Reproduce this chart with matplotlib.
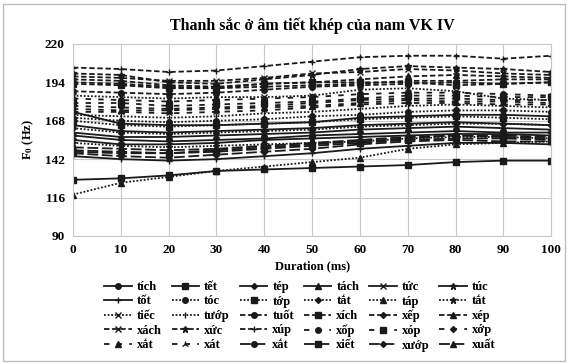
import numpy as np
import matplotlib
matplotlib.use("Agg")
import matplotlib.pyplot as plt
from matplotlib.patches import Rectangle

plt.rcParams['font.family'] = ['Liberation Serif', 'DejaVu Serif']
plt.rcParams['font.weight'] = 'bold'
plt.rcParams['mathtext.fontset'] = 'stix'

duration = [0, 10, 20, 30, 40, 50, 60, 70, 80, 90, 100]

# legend rows (6 per row)
labels_row1 = ['tích', 'tết', 'tép', 'tách', 'tức', 'túc']
labels_row2 = ['tốt', 'tóc', 'tớp', 'tắt', 'táp', 'tắt']
labels_row3 = ['tiếc', 'tướp', 'tuốt', 'xích', 'xếp', 'xép']
labels_row4 = ['xách', 'xức', 'xúp', 'xốp', 'xóp', 'xớp']
labels_row5 = ['xắt', 'xát', 'xắt', 'xiết', 'xướp', 'xuất']

# F0 (Hz) per syllable, same order as the labels
f0_row1 = [
    [174, 166, 165, 165, 166, 167, 170, 171, 172, 172, 171],
    [128, 129, 131, 134, 135, 136, 137, 138, 140, 141, 141],
    [165, 161, 160, 161, 162, 163, 165, 166, 167, 166, 165],
    [160, 157, 157, 158, 159, 160, 162, 163, 164, 163, 162],
    [158, 155, 154, 155, 156, 158, 159, 160, 161, 160, 160],
    [155, 152, 152, 153, 155, 156, 157, 158, 159, 159, 158],
]
f0_row2 = [
    [144, 142, 141, 142, 144, 146, 149, 151, 153, 153, 152],
    [170, 168, 167, 168, 169, 171, 172, 174, 175, 175, 174],
    [168, 165, 164, 165, 166, 167, 169, 170, 171, 170, 169],
    [163, 160, 159, 160, 161, 162, 164, 165, 166, 166, 165],
    [118, 126, 130, 134, 137, 140, 143, 149, 152, 153, 154],
    [153, 151, 150, 151, 152, 153, 154, 156, 157, 157, 156],
]
f0_row3 = [
    [185, 184, 183, 184, 184, 185, 189, 190, 188, 183, 182],
    [172, 171, 170, 171, 173, 174, 176, 178, 179, 178, 177],
    [188, 187, 186, 187, 189, 191, 192, 193, 194, 193, 194],
    [193, 192, 190, 190, 193, 194, 194, 194, 192, 193, 194],
    [194, 193, 191, 190, 191, 192, 193, 195, 195, 196, 196],
    [196, 195, 192, 191, 193, 194, 196, 198, 199, 198, 197],
]
f0_row4 = [
    [198, 197, 195, 195, 197, 200, 201, 203, 202, 200, 199],
    [200, 199, 194, 193, 196, 199, 203, 205, 204, 203, 201],
    [204, 203, 201, 202, 205, 208, 211, 212, 212, 210, 212],
    [183, 182, 181, 182, 183, 184, 186, 187, 187, 186, 185],
    [180, 180, 178, 179, 180, 181, 183, 185, 185, 184, 184],
    [178, 177, 176, 177, 178, 180, 182, 183, 183, 182, 182],
]
f0_row5 = [
    [176, 175, 175, 176, 177, 178, 180, 182, 181, 181, 180],
    [174, 174, 173, 174, 175, 177, 179, 180, 180, 179, 179],
    [148, 147, 146, 148, 150, 152, 154, 156, 158, 157, 156],
    [147, 146, 146, 147, 149, 151, 153, 155, 156, 156, 155],
    [146, 144, 143, 145, 147, 149, 152, 154, 155, 154, 154],
    [150, 149, 148, 149, 151, 153, 155, 157, 158, 158, 157],
]

labels = labels_row1 + labels_row2 + labels_row3 + labels_row4 + labels_row5
f0 = f0_row1 + f0_row2 + f0_row3 + f0_row4 + f0_row5

solid = '-'
dotted = (0, (1, 1))
dashed = (0, (3, 1.5))
sparse = (0, (3, 4))
longdash = (0, (6, 2))

# line style / marker for each syllable
styles = ([solid] * 7 + [dotted] * 7 + [dashed] * 7
          + [sparse] * 5 + [longdash] * 4)
markers = ['o', 's', 'D', '^', 'x', '*', '+',
           'o', 's', 'D', '^', '*', 'x', '|',
           'o', 's', 'D', '^', 'x', '*', '+',
           'o', 's', 'D', '^', '2',
           'o', 's', 'D', '^']
msizes = {'o': 4, 's': 4, 'D': 3, '^': 4, 'x': 4, '*': 5, '+': 5, '|': 5, '2': 5}

fig = plt.figure(figsize=(5.68, 3.63), dpi=100)
fig.patch.set_facecolor('white')
ax = fig.add_axes([0.1285, 0.35, 0.842, 0.529])

handles = []
for lab, vals, ls, mk in zip(labels, f0, styles, markers):
    h, = ax.plot(duration, vals, color='#1a1a1a', linestyle=ls, linewidth=1.3,
                 marker=mk, markersize=msizes[mk], markeredgewidth=1.0, label=lab)
    handles.append(h)

ax.set_xlim(0, 100)
ax.set_ylim(90, 220)
ax.set_xticks(duration)
ax.set_yticks([90, 116, 142, 168, 194, 220])
ax.grid(True, color='#c8c8c8', linewidth=0.8)
ax.set_axisbelow(True)
for s in ax.spines.values():
    s.set_color('#c8c8c8')
    s.set_linewidth(0.8)
ax.tick_params(length=0, labelsize=9.5, pad=6)
for t in ax.get_xticklabels() + ax.get_yticklabels():
    t.set_fontweight('bold')

ax.set_title('Thanh sắc ở âm tiết khép của nam VK IV', fontsize=11.5,
             fontweight='bold', pad=10)
ax.set_xlabel('Duration (ms)', fontsize=9, fontweight='bold', labelpad=3)
ax.set_ylabel(r'F$_\mathbf{0}$ (Hz)', fontsize=9, fontweight='bold', labelpad=6)

# legend is read row by row, matplotlib fills column by column
order = [r * 6 + c for c in range(6) for r in range(5)]
leg = fig.legend([handles[i] for i in order], [labels[i] for i in order],
                 ncol=6, loc='upper center', bbox_to_anchor=(0.528, 0.25),
                 frameon=False, fontsize=9, handlelength=2.2,
                 handletextpad=0.4, columnspacing=0.8, labelspacing=0.2,
                 borderpad=0.2)
for t in leg.get_texts():
    t.set_fontweight('bold')

fig.patches.append(Rectangle((0.005, 0.005), 0.99, 0.985, transform=fig.transFigure,
                             fill=False, edgecolor='#bdbdbd', linewidth=1.0))

fig.savefig('out.png', dpi=100)
